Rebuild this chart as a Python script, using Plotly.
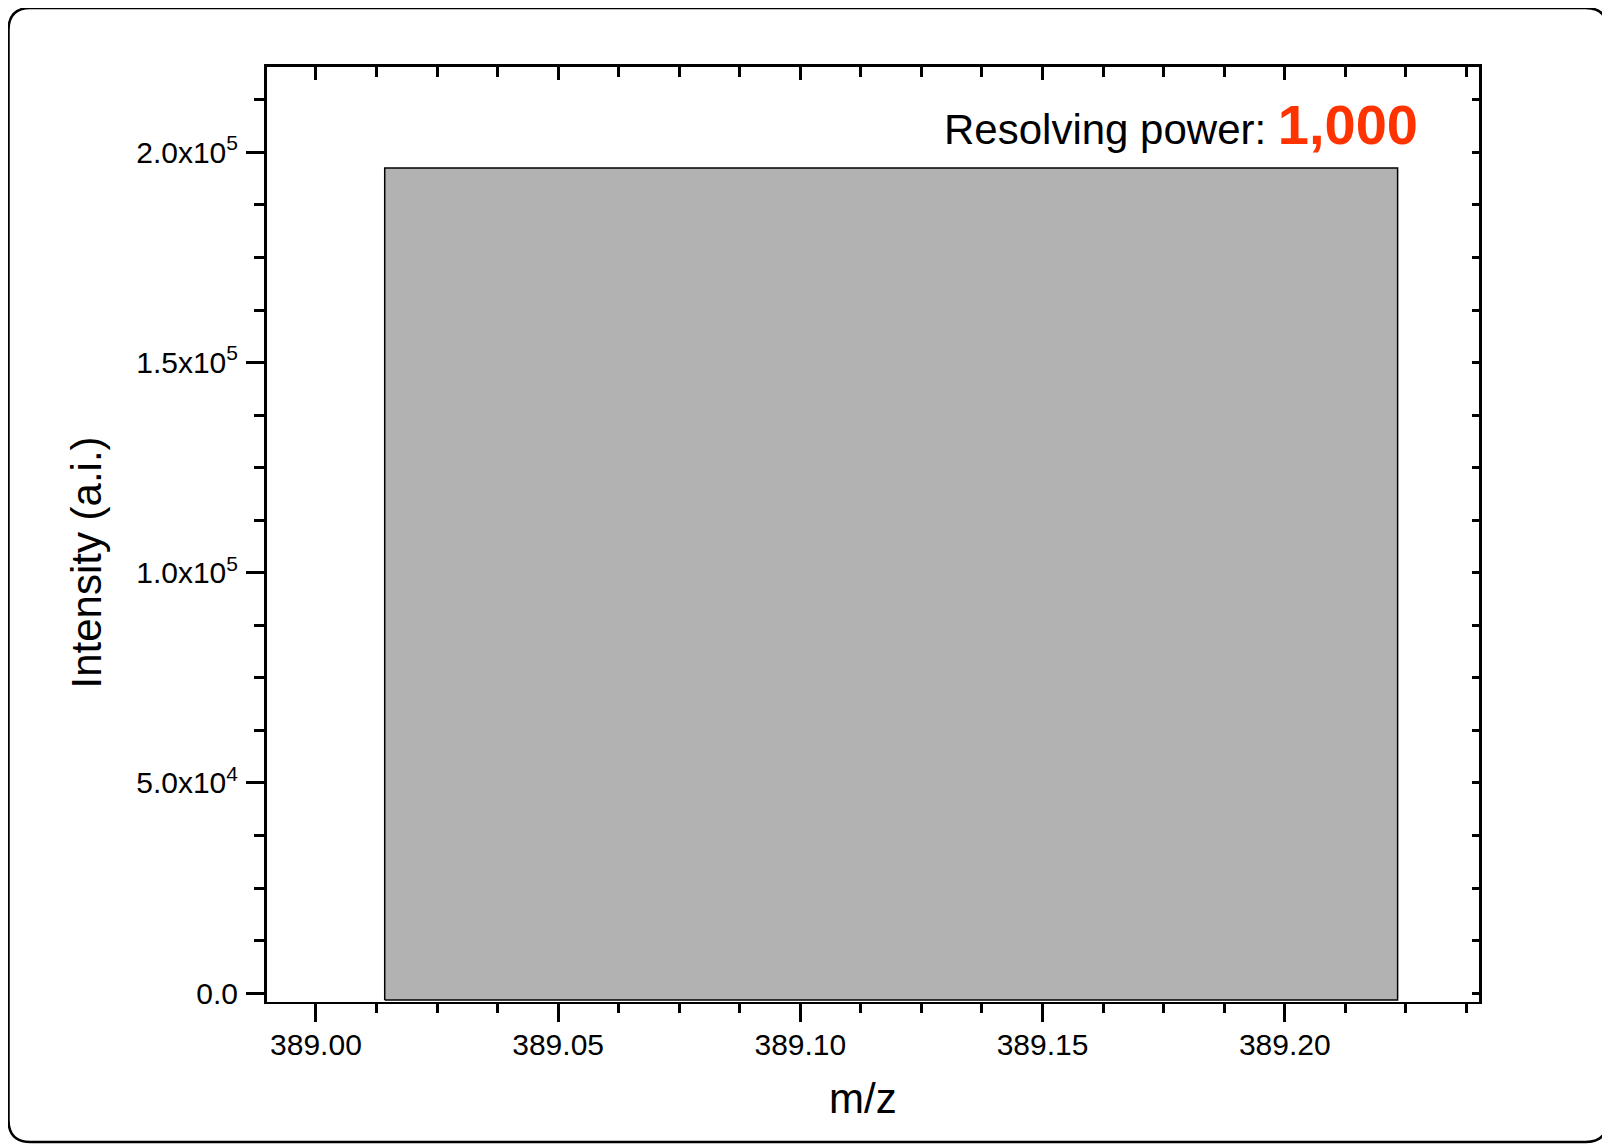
import plotly.graph_objects as go

# ---- data ----
peak_mz = [389.0142, 389.0142, 389.2233, 389.2233, 389.0142]
peak_intensity = [-1600, 196300, 196300, -1600, -1600]
x_range = [388.9899, 389.2401]
y_range = [-2100, 220300]
y_tickvals = [0, 50000, 100000, 150000, 200000]
y_ticktext = ["0.0", "5.0x10<sup>4</sup>", "1.0x10<sup>5</sup>", "1.5x10<sup>5</sup>", "2.0x10<sup>5</sup>"]
x_dtick = 0.05
x_minor = 0.0125
y_minor = 12500
resolving_label = "Resolving power: "
resolving_value = "1,000"

# page body margin offset (default 8px in the html page)
OFF = 8
W, H = 1610 - OFF, 1144 - OFF
L, R, T, B = 267 - OFF, 131, 67 - OFF, 142
pw, ph = W - L - R, H - T - B

def px(xp):
    # xp in screenshot pixels
    return (xp - OFF - L) / pw

def py(yp):
    return (H - B - (yp - OFF)) / ph

FONT = "Liberation Sans, Arial, sans-serif"

fig = go.Figure()
fig.add_trace(go.Scatter(
    x=peak_mz, y=peak_intensity, mode="lines", fill="toself",
    fillcolor="#b2b2b2", line=dict(color="black", width=1.5),
    hoverinfo="skip", showlegend=False))
# invisible traces to activate mirrored axes
fig.add_trace(go.Scatter(x=[x_range[0]], y=[0], xaxis="x2", yaxis="y",
                         mode="markers", marker=dict(opacity=0), showlegend=False, hoverinfo="skip"))
fig.add_trace(go.Scatter(x=[x_range[0]], y=[0], xaxis="x", yaxis="y2",
                         mode="markers", marker=dict(opacity=0), showlegend=False, hoverinfo="skip"))

fig.update_layout(
    width=W, height=H,
    margin=dict(l=L, r=R, t=T, b=B),
    paper_bgcolor="white", plot_bgcolor="white",
    font=dict(family=FONT, color="black"),
    showlegend=False,
    xaxis=dict(range=x_range, showline=True, linecolor="black", linewidth=1.5,
               ticks="outside", ticklen=18, tickwidth=2.5, tickcolor="black",
               tick0=389.0, dtick=x_dtick, tickformat=".2f",
               tickfont=dict(size=30, family=FONT, color="black"),
               ticklabelstandoff=-3,
               minor=dict(ticks="outside", ticklen=9, tickwidth=2.5, tickcolor="black",
                          tick0=389.0, dtick=x_minor, showgrid=False),
               showgrid=False, zeroline=False),
    xaxis2=dict(range=x_range, overlaying="x", side="top", anchor="y",
                showline=True, linecolor="black", linewidth=3,
                ticks="inside", ticklen=13, tickwidth=2.5, tickcolor="black",
                tick0=389.0, dtick=x_dtick, showticklabels=False,
                minor=dict(ticks="inside", ticklen=10, tickwidth=2.5, tickcolor="black",
                           tick0=389.0, dtick=x_minor, showgrid=False),
                showgrid=False, zeroline=False),
    yaxis=dict(range=y_range, showline=True, linecolor="black", linewidth=3,
               ticks="outside", ticklen=18, tickwidth=2.5, tickcolor="black",
               tickvals=y_tickvals, ticktext=y_ticktext,
               tickfont=dict(size=30, family=FONT, color="black"),
               ticklabelstandoff=2,
               minor=dict(ticks="outside", ticklen=10, tickwidth=2.5, tickcolor="black",
                          tick0=0, dtick=y_minor, showgrid=False),
               showgrid=False, zeroline=False),
    yaxis2=dict(range=y_range, overlaying="y", side="right", anchor="x",
                showline=True, linecolor="black", linewidth=3,
                ticks="inside", ticklen=7, tickwidth=2.5, tickcolor="black",
                tick0=0, dtick=y_minor, showticklabels=False,
                showgrid=False, zeroline=False),
)

# axis titles
fig.add_annotation(text="m/z", xref="paper", yref="paper", x=px(862.5), y=py(1098),
                   xanchor="center", yanchor="middle", showarrow=False,
                   font=dict(size=42, family=FONT, color="black"))
fig.add_annotation(text="Intensity (a.i.)", xref="paper", yref="paper", x=px(86), y=py(562.5),
                   xanchor="center", yanchor="middle", textangle=-90, showarrow=False,
                   font=dict(size=42, family=FONT, color="black"))
# resolving power label
fig.add_annotation(
    text=resolving_label + "<b><span style='color:#ff3300;font-size:56px'>" + resolving_value + "</span></b>",
    xref="paper", yref="paper", x=px(1420), y=py(125),
    xanchor="right", yanchor="middle", showarrow=False,
    font=dict(size=42, family=FONT, color="black"))

# rounded outer frame (screenshot pixel coordinates)
x0, x1, y0, y1, r = 8.5, 1607.5, 8, 1142, 22
rx, ry = r / pw, r / ph
X0, X1, Y0, Y1 = px(x0), px(x1), py(y0), py(y1)
path = (f"M {X0+rx},{Y0} L {X1-rx},{Y0} Q {X1},{Y0} {X1},{Y0-ry} "
        f"L {X1},{Y1+ry} Q {X1},{Y1} {X1-rx},{Y1} "
        f"L {X0+rx},{Y1} Q {X0},{Y1} {X0},{Y1+ry} "
        f"L {X0},{Y0-ry} Q {X0},{Y0} {X0+rx},{Y0} Z")
fig.add_shape(type="path", path=path, xref="paper", yref="paper",
              line=dict(color="black", width=2.5), layer="below")

fig.write_html("out.html")
